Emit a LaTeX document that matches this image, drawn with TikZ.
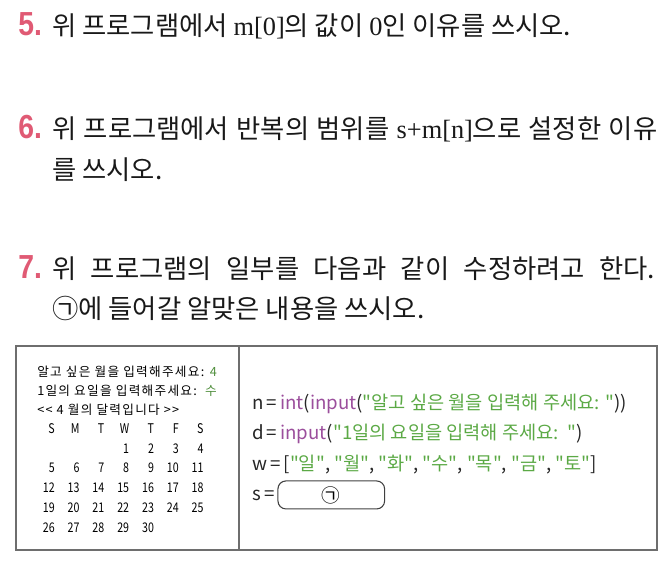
\documentclass[tikz,border=0pt]{standalone}
\usepackage{fontspec}
\usepackage{graphicx}
\usetikzlibrary{positioning}
\setmainfont{Noto Sans CJK KR}[Ligatures=TeXOff]
\newfontfamily\consolefont{Noto Sans CJK KR}[Ligatures=TeXOff,LetterSpace=10]
\newfontfamily\latinserif{Liberation Serif}
\newfontfamily\numfont{Liberation Sans}
\definecolor{qnum}{HTML}{E05A74}
\definecolor{framegray}{HTML}{6E6E6E}
\definecolor{kwpurple}{HTML}{9B4E9C}
\definecolor{strgreen}{HTML}{5BA945}
\definecolor{outgreen}{HTML}{4F8E3C}

\begin{document}
\begin{tikzpicture}[x=0.75pt,y=-0.75pt,
    qnumber/.style={anchor=base west,inner sep=0pt,text=qnum,font=\numfont\bfseries\fontsize{25pt}{25pt}\selectfont},
    question/.style={anchor=base west,inner sep=0pt,text=black!90,font=\fontsize{19.75pt}{21pt}\selectfont},
    console/.style={anchor=base west,inner sep=0pt,font=\consolefont\fontsize{9.5pt}{10pt}\selectfont},
    day/.style={anchor=base east,inner sep=0pt,font=\fontsize{10pt}{10pt}\selectfont},
    code/.style={anchor=base west,inner sep=0pt,text=black!85,font=\fontsize{14pt}{15pt}\selectfont},
    blankbox/.style={draw=black!75,thick,rounded corners=6pt,minimum width=80pt,minimum height=21pt,inner sep=0pt,font=\fontsize{14pt}{15pt}\selectfont},
    panel/.style={draw=framegray,line width=1pt}]
    \useasboundingbox (0,0) rectangle (667,562);
    \node[qnumber] (n5) at (18,35) {\scalebox{0.85}[1]{5.}};
    \node[question] (q5) at (52,35) {위 프로그램에서 {\latinserif m[0]}의 값이 {\latinserif 0}인 이유를 쓰시오.};
    \node[qnumber] (n6) at (18,138) {\scalebox{0.85}[1]{6.}};
    \node[question] (q6) at (52,138) {\makebox[453.75pt][s]{위 프로그램에서 반복의 범위를 {\latinserif s+m[n]}으로 설정한 이유}};
    \node[question] (q6b) at (52,179) {를 쓰시오.};
    \node[qnumber] (n7) at (18,278) {\scalebox{0.85}[1]{7.}};
    \node[question] (q7) at (52,278) {\makebox[452.25pt][s]{위 프로그램의 일부를 다음과 같이 수정하려고 한다.}};
    \node[question] (q7b) at (52,318) {㉠에 들어갈 알맞은 내용을 쓰시오.};
    \draw[panel] (16,346) rectangle (657,550);
    \draw[panel] (239,346) -- (239,550);
    \node[console] (out1) at (37,376) {알고 싶은 월을 입력해주세요: \textcolor{outgreen}{4}};
    \node[console] (out2) at (37,395.5) {1일의 요일을 입력해주세요:\ \ \textcolor{outgreen}{수}};
    \node[console] (out3) at (37,414.5) {<< 4 월의 달력입니다 >>};
    \foreach \w [count=\i from 0] in {S,M,T,W,T,F,S}
        \node[day] (wd\i) at (55+24.8*\i,433) {\scalebox{0.8}[1]{\w}};
    \foreach \d in {1,...,30} {
        \pgfmathtruncatemacro\col{mod(\d+2,7)}
        \pgfmathtruncatemacro\row{div(\d+2,7)}
        \node[day] (day\d) at (55+24.8*\col,453+19.75*\row) {\scalebox{0.8}[1]{\d}};
    }
    \node[code] (ln) at (252,409) {n\,=\,\textcolor{kwpurple}{int}(\textcolor{kwpurple}{input}(\textcolor{strgreen}{"알고 싶은 월을 입력해 주세요: "}))};
    \node[code] (ld) at (252,439.5) {d\,=\,\textcolor{kwpurple}{input}(\textcolor{strgreen}{"1일의 요일을 입력해 주세요:\ \ "})};
    \node[code] (lw) at (252,470) {w\,=\,[\textcolor{strgreen}{"일"}, \textcolor{strgreen}{"월"}, \textcolor{strgreen}{"화"}, \textcolor{strgreen}{"수"}, \textcolor{strgreen}{"목"}, \textcolor{strgreen}{"금"}, \textcolor{strgreen}{"토"}]};
    \node[code] (ls) at (252,500) {s\,=};
    \node[blankbox,right=2pt of ls] (blank) {㉠};
\end{tikzpicture}
\end{document}
